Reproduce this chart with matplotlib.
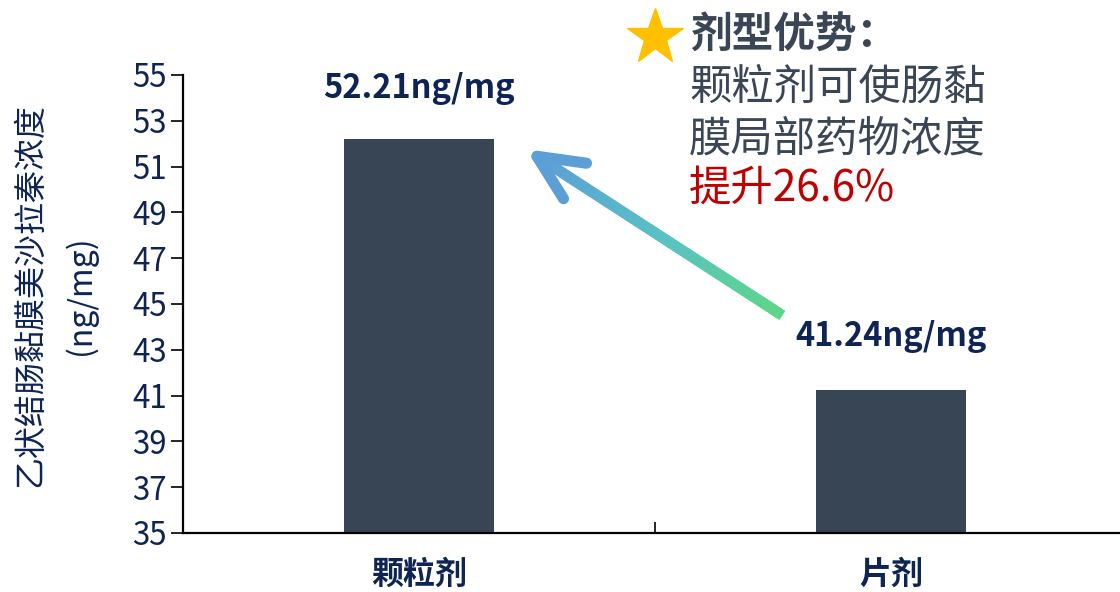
import numpy as np
import matplotlib
matplotlib.use("Agg")
import matplotlib.pyplot as plt
from matplotlib.collections import LineCollection
from matplotlib.colors import LinearSegmentedColormap
from matplotlib.transforms import IdentityTransform

plt.rcParams['font.family'] = ['Noto Sans CJK SC', 'DejaVu Sans']

# data
categories = ["颗粒剂", "片剂"]
values = [52.21, 41.24]
value_labels = ["52.21ng/mg", "41.24ng/mg"]
yticks = list(range(35, 56, 2))

navy = "#0E2454"
bar_color = "#374555"

fig = plt.figure(figsize=(11.2, 5.92), dpi=100)
ax = fig.add_axes([183 / 1120, 59 / 592, 944 / 1120, 458 / 592])

x = np.arange(len(categories))
ax.bar(x, values, width=0.316, color=bar_color, zorder=2)
ax.set_xlim(-0.5, 1.5)
ax.set_ylim(35, 55)
ax.set_yticks(yticks)
ax.tick_params(axis='y', direction='out', length=8.5, width=1.2, labelsize=22.5,
               labelcolor=navy, pad=3)
ax.set_xticks([0.5])
ax.set_xticklabels([""])
ax.tick_params(axis='x', direction='in', length=8, width=1.2)
for s in ['top', 'right']:
    ax.spines[s].set_visible(False)
for s in ['left', 'bottom']:
    ax.spines[s].set_linewidth(1.6)

# category labels under bars
for xi, c in zip(x, categories):
    ax.text(xi, 35 - 42 / 22.9, c, ha='center', va='center',
            fontsize=23, fontweight='bold', color=navy, clip_on=False)

# value labels
label_offsets = [2.2, 2.35]
for xi, v, lab, off in zip(x, values, value_labels, label_offsets):
    ax.text(xi, v + off, lab, ha='center', va='center',
            fontsize=23.5, fontweight='bold', color=navy, clip_on=False)

# y label (two lines)
fig.text(30 / 1120, 1 - 295 / 592, "乙状结肠黏膜美沙拉秦浓度", rotation=90,
         ha='center', va='center', fontsize=23, color=navy)
fig.text(80 / 1120, 1 - 295 / 592, "(ng/mg)", rotation=90,
         ha='center', va='center', fontsize=23, color=navy)

# annotation text block
txt_color = "#3A4656"
ax.plot([655 / 1120], [1 - 37 / 592], marker='*', markersize=42, color="#FFC000",
        transform=fig.transFigure, clip_on=False, linestyle='none')
fig.text(690 / 1120, 1 - 36 / 592, "剂型优势：", ha='left', va='center',
         fontsize=30, fontweight='bold', color=txt_color)
fig.text(689 / 1120, 1 - 88 / 592, "颗粒剂可使肠黏", ha='left', va='center',
         fontsize=30.5, color=txt_color)
fig.text(689 / 1120, 1 - 139 / 592, "膜局部药物浓度", ha='left', va='center',
         fontsize=30.5, color=txt_color)
fig.text(689 / 1120, 1 - 189 / 592, "提升26.6%", ha='left', va='center',
         fontsize=30.5, color="#C00000")

# gradient arrow from 片剂 toward 颗粒剂
fig.canvas.draw()
tail = ax.transData.transform((0.77, 44.5))
tip = ax.transData.transform((0.25, 51.45))
n = 100
pts = np.linspace(tail, tip, n + 1)
step = pts[1] - pts[0]
segs = np.stack([pts[:-1], pts[1:] + step * 0.8], axis=1)
segs[-1, 1] = pts[-1]
cmap = LinearSegmentedColormap.from_list("g", ["#5DD787", "#59C1C5", "#5B9FD6"])
lc = LineCollection(segs, colors=cmap(np.linspace(0, 1, n)), linewidths=7.8,
                    capstyle='butt', transform=IdentityTransform(), zorder=5)
fig.add_artist(lc)

d = (tail - tip) / np.linalg.norm(tail - tip)
arm_len = 50
for ang in (25, -25):
    r = np.deg2rad(ang)
    rot = np.array([[np.cos(r), -np.sin(r)], [np.sin(r), np.cos(r)]])
    end = tip + arm_len * rot @ d
    ln = plt.Line2D([tip[0], end[0]], [tip[1], end[1]], color="#5B9FD6", lw=8,
                    solid_capstyle='round', transform=IdentityTransform(), zorder=5)
    fig.add_artist(ln)

fig.savefig("out.png", dpi=100)
